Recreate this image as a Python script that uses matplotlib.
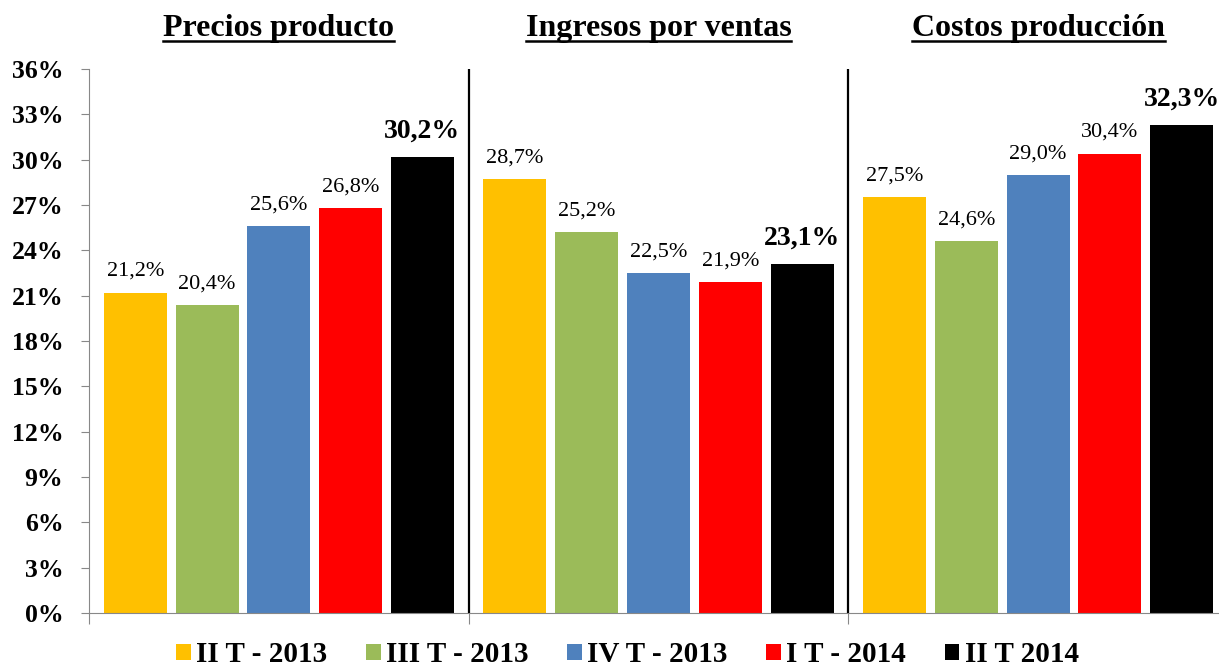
import matplotlib
matplotlib.use("Agg")
import matplotlib.pyplot as plt
import numpy as np

groups = ["Precios producto", "Ingresos por ventas", "Costos producción"]
series = ["II T - 2013", "III T - 2013", "IV T - 2013", "I T - 2014", "II T 2014"]
values = {
    "II T - 2013": [21.2, 28.7, 27.5],
    "III T - 2013": [20.4, 25.2, 24.6],
    "IV T - 2013": [25.6, 22.5, 29.0],
    "I T - 2014": [26.8, 21.9, 30.4],
    "II T 2014": [30.2, 23.1, 32.3],
}
colors = ["#FFC000", "#9BBB59", "#4F81BD", "#FF0000", "#000000"]
yticks = list(range(0, 37, 3))

plt.rcParams['font.family'] = ['Liberation Serif', 'DejaVu Serif']

fig = plt.figure(figsize=(12.19, 6.67), dpi=100)
ax = fig.add_axes([89/1219, 1 - 613/667, (1228 - 89)/1219, (613 - 69)/667])

x = np.arange(len(groups))
step = 0.189
width = 0.166
n = len(series)
for i, s in enumerate(series):
    pos = x + (i - (n - 1) / 2) * step
    bars = ax.bar(pos, values[s], width=width, color=colors[i], label=s, zorder=2)
    last = (i == n - 1)
    for b, v in zip(bars, values[s]):
        lbl = f"{v:.1f}%".replace(".", ",")
        ax.annotate(lbl, (b.get_x() + b.get_width() / 2, v),
                    xytext=(0, 14 if last else 12), textcoords="offset points",
                    ha="center", va="baseline",
                    fontsize=20 if last else 16,
                    fontweight="bold" if last else "normal")

ax.set_xlim(-0.5, 2.5)
ax.set_ylim(0, 36)
ax.set_yticks(yticks)
ax.set_yticklabels([f"{t}%" for t in yticks], fontsize=18.5, fontweight="bold")
ax.set_xticks([-0.5, 0.5, 1.5, 2.5])
ax.set_xticklabels([])
ax.tick_params(axis="y", direction="out", length=6, color="#888888", pad=12.5)
ax.tick_params(axis="x", direction="out", length=8, color="#888888")
for sp in ["top", "right"]:
    ax.spines[sp].set_visible(False)
ax.spines["left"].set_color("#888888")
ax.spines["bottom"].set_color("#888888")

for xv in [0.5, 1.5]:
    ax.axvline(xv, color="black", lw=1.6, zorder=3)

title_texts = []
for g, name in zip(x, groups):
    t = ax.text(g, 1.061, name, transform=ax.get_xaxis_transform(), ha="center",
                va="baseline", fontsize=23, fontweight="bold")
    title_texts.append(t)

fig.canvas.draw()
renderer = fig.canvas.get_renderer()
for t in title_texts:
    bb = t.get_window_extent(renderer)
    yline = bb.y0 + 1.5
    fig.add_artist(plt.Line2D([bb.x0 / fig.bbox.width, bb.x1 / fig.bbox.width],
                              [yline / fig.bbox.height, yline / fig.bbox.height],
                              color="black", lw=1.8, transform=fig.transFigure))

fig.legend(loc="center", bbox_to_anchor=(627.5/1219, 1 - 655/667), ncol=5, frameon=False,
           prop={"family": "Liberation Serif", "weight": "bold", "size": 21},
           handlelength=0.5, handleheight=0.5, handletextpad=0.18, columnspacing=1.33,
           borderpad=0.0)

fig.savefig("out.png", dpi=100)
